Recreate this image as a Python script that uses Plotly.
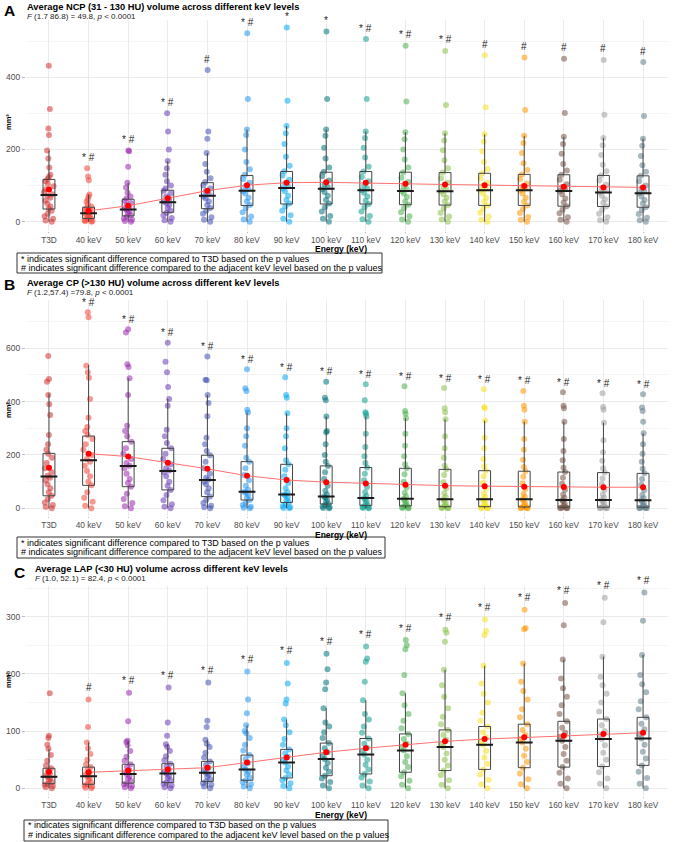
import plotly.graph_objects as go

W, H = 676, 842

categories = ["T3D", "40 keV", "50 keV", "60 keV", "70 keV", "80 keV", "90 keV", "100 keV",
              "110 keV", "120 keV", "130 keV", "140 keV", "150 keV", "160 keV", "170 keV", "180 keV"]
colors = ["#D32F2F", "#F44336", "#9C27B0", "#673AB7", "#3F51B5", "#2196F3", "#03A9F4", "#00737A",
          "#11A090", "#4CAF50", "#8BC34A", "#F5E020", "#FF9800", "#795548", "#9E9E9E", "#607D8B"]

# ---------------- Panel A : NCP ----------------
ncp_points = [
    [0, 3, 8, 15, 22, 30, 36, 42, 50, 58, 66, 72, 76, 82, 90, 98, 105, 112, 118, 124, 130, 150, 175, 197, 240, 258, 312, 432],
    [0, 1, 2, 4, 6, 9, 12, 15, 18, 21, 24, 27, 30, 34, 38, 42, 48, 55, 62, 70, 75, 115, 125, 148],
    [0, 2, 5, 9, 14, 18, 23, 28, 32, 36, 40, 46, 52, 58, 64, 70, 80, 95, 108, 152, 195, 197],
    [0, 4, 10, 18, 25, 30, 38, 46, 52, 56, 62, 70, 78, 86, 92, 100, 112, 130, 148, 168, 200, 250, 300],
    [0, 5, 12, 22, 30, 38, 46, 56, 64, 70, 76, 84, 92, 100, 110, 120, 138, 160, 190, 230, 250, 420],
    [0, 6, 14, 26, 38, 46, 56, 66, 78, 84, 90, 98, 108, 118, 130, 145, 165, 200, 240, 255, 340, 522],
    [0, 8, 18, 30, 42, 50, 60, 72, 84, 92, 98, 106, 116, 128, 140, 155, 180, 215, 245, 265, 335, 538],
    [0, 8, 16, 28, 40, 50, 60, 72, 82, 90, 96, 104, 114, 126, 138, 150, 175, 205, 238, 255, 340, 527],
    [0, 7, 16, 28, 40, 49, 58, 70, 80, 87, 92, 100, 112, 124, 139, 152, 178, 205, 232, 250, 340, 506],
    [0, 6, 15, 26, 38, 47, 56, 68, 78, 85, 90, 98, 110, 122, 137, 150, 172, 200, 228, 248, 333, 487],
    [0, 6, 14, 25, 37, 46, 56, 66, 76, 84, 90, 98, 108, 120, 136, 148, 170, 198, 225, 245, 323, 473],
    [0, 5, 14, 25, 36, 45, 55, 66, 78, 87, 92, 100, 108, 120, 134, 146, 165, 195, 222, 242, 317, 461],
    [0, 5, 13, 24, 35, 45, 55, 66, 78, 87, 92, 98, 106, 118, 131, 143, 162, 190, 218, 238, 309, 455],
    [0, 5, 12, 23, 34, 43, 53, 64, 76, 85, 90, 96, 104, 116, 130, 142, 160, 188, 215, 235, 301, 451],
    [0, 4, 12, 22, 33, 42, 52, 62, 72, 81, 87, 94, 102, 114, 128, 140, 158, 185, 212, 232, 296, 448],
    [0, 4, 11, 21, 32, 40, 50, 60, 70, 79, 85, 92, 100, 112, 127, 138, 156, 182, 210, 230, 293, 442],
]
ncp_q1 = [35, 9, 16, 26, 36, 45, 49, 49, 49, 47, 46, 45, 45, 43, 42, 40]
ncp_median = [74, 23, 34, 54, 72, 86, 93, 91, 87, 85, 84, 87, 87, 85, 81, 79]
ncp_q3 = [117, 40, 62, 87, 108, 128, 139, 137, 139, 137, 136, 134, 131, 130, 128, 127]
ncp_upper = [197, 75, 108, 168, 190, 255, 265, 255, 250, 248, 245, 242, 238, 235, 232, 230]
ncp_mean = [89, 30, 44, 65, 86, 101, 108, 109, 108, 105, 103, 101, 99, 97, 95, 95]
ncp_labels = ["", "* #", "* #", "* #", "#", "* #", "*", "*", "* #", "* #", "* #", "#", "#", "#", "#", "#"]

# ---------------- Panel B : CP ----------------
cp_points = [
    [0, 5, 12, 22, 35, 47, 60, 75, 90, 105, 115, 122, 135, 150, 170, 190, 205, 220, 240, 275, 350, 390, 425, 475, 485, 571],
    [0, 10, 25, 40, 60, 86, 100, 120, 140, 160, 175, 185, 200, 220, 240, 260, 275, 290, 305, 340, 410, 490, 510, 535, 716, 735],
    [0, 8, 20, 35, 55, 81, 95, 110, 130, 150, 160, 170, 185, 205, 225, 250, 270, 290, 310, 425, 488, 530, 540, 659, 671],
    [0, 6, 15, 30, 50, 69, 85, 100, 120, 135, 142, 150, 165, 185, 205, 225, 245, 270, 295, 385, 410, 455, 510, 550, 621],
    [0, 4, 10, 20, 32, 44, 60, 75, 90, 100, 108, 115, 130, 150, 175, 199, 215, 240, 265, 345, 395, 425, 480, 482, 569],
    [0, 2, 6, 12, 20, 31, 40, 50, 58, 62, 70, 85, 105, 125, 150, 175, 190, 235, 270, 300, 359, 370, 440, 450, 521],
    [0, 1, 4, 9, 15, 22, 30, 40, 48, 52, 60, 75, 95, 120, 145, 165, 180, 225, 270, 300, 356, 415, 425, 491],
    [0, 1, 3, 7, 12, 16, 24, 32, 40, 44, 52, 66, 85, 110, 135, 159, 175, 200, 240, 285, 290, 344, 405, 415, 475],
    [0, 1, 2, 5, 8, 11, 18, 26, 34, 39, 46, 60, 80, 105, 130, 153, 170, 195, 230, 280, 344, 355, 360, 405, 465],
    [0, 1, 2, 4, 6, 9, 15, 22, 30, 36, 44, 58, 78, 100, 128, 150, 165, 195, 235, 280, 338, 355, 365, 458],
    [0, 0, 1, 3, 5, 6, 12, 20, 28, 34, 42, 56, 75, 98, 125, 146, 160, 190, 225, 270, 334, 360, 375, 451],
    [0, 0, 1, 3, 5, 6, 12, 20, 28, 34, 42, 55, 74, 96, 120, 141, 158, 185, 225, 265, 329, 375, 380, 446],
    [0, 0, 1, 2, 4, 5, 11, 19, 28, 34, 42, 54, 72, 94, 118, 139, 155, 182, 220, 260, 325, 370, 385, 440],
    [0, 0, 1, 2, 3, 4, 10, 18, 26, 31, 40, 52, 70, 92, 115, 136, 152, 180, 215, 260, 325, 375, 385, 435],
    [0, 0, 1, 2, 3, 4, 10, 18, 26, 31, 40, 52, 70, 90, 112, 134, 150, 178, 210, 255, 321, 370, 380, 431],
    [0, 0, 1, 2, 3, 4, 10, 17, 25, 30, 38, 50, 68, 88, 110, 131, 148, 175, 205, 240, 281, 325, 365, 378, 428],
]
cp_q1 = [47, 86, 81, 69, 44, 31, 22, 16, 11, 9, 6, 6, 5, 4, 4, 4]
cp_median = [119, 180, 159, 140, 106, 62, 52, 44, 39, 36, 34, 34, 34, 31, 31, 30]
cp_q3 = [206, 271, 250, 225, 199, 175, 165, 159, 153, 150, 146, 141, 139, 136, 134, 131]
cp_upper = [431, 537, 488, 410, 425, 359, 356, 344, 344, 338, 334, 329, 325, 325, 321, 281]
cp_mean = [152, 205, 194, 171, 148, 122, 106, 98, 93, 88, 85, 83, 81, 80, 79, 79]
cp_labels = ["", "* #", "* #", "* #", "* #", "* #", "* #", "* #", "* #", "* #", "* #", "* #", "* #", "* #", "* #", "* #"]

# ---------------- Panel C : LAP ----------------
lap_points = [
    [0, 2, 4, 6, 8, 11, 14, 17, 20, 23, 26, 30, 35, 40, 48, 58, 69, 76, 88, 92, 166],
    [0, 1, 3, 5, 7, 10, 14, 18, 21, 24, 28, 32, 37, 42, 50, 60, 70, 80, 107, 155],
    [0, 2, 4, 7, 9, 13, 17, 21, 25, 28, 32, 37, 42, 48, 55, 65, 75, 81, 83, 117, 167],
    [0, 2, 5, 8, 10, 14, 18, 22, 26, 29, 33, 38, 43, 49, 56, 65, 72, 77, 92, 115, 176],
    [0, 3, 6, 9, 12, 16, 20, 24, 27, 31, 36, 41, 47, 54, 62, 72, 78, 85, 107, 118, 185],
    [0, 3, 7, 11, 14, 19, 24, 29, 33, 38, 44, 51, 58, 66, 76, 88, 96, 100, 110, 131, 155, 204],
    [0, 4, 9, 14, 18, 24, 31, 38, 45, 50, 55, 61, 68, 76, 86, 98, 110, 120, 148, 155, 183, 219],
    [0, 5, 11, 17, 22, 29, 36, 44, 51, 57, 63, 70, 79, 88, 98, 108, 115, 140, 173, 185, 208, 235],
    [0, 5, 12, 19, 25, 33, 41, 50, 59, 65, 71, 78, 87, 97, 108, 120, 130, 154, 186, 221, 227, 248],
    [0, 6, 13, 21, 28, 37, 46, 56, 66, 72, 78, 86, 95, 105, 118, 130, 145, 166, 198, 243, 250, 259],
    [0, 6, 14, 23, 31, 40, 50, 61, 72, 78, 85, 93, 102, 112, 125, 140, 160, 180, 207, 256, 272, 277],
    [0, 7, 15, 24, 33, 43, 54, 65, 76, 82, 89, 98, 108, 118, 132, 150, 165, 183, 214, 268, 275, 295],
    [0, 7, 16, 26, 36, 46, 57, 69, 80, 86, 93, 102, 112, 124, 138, 155, 170, 186, 218, 278, 280, 312],
    [0, 8, 17, 27, 37, 48, 60, 72, 83, 90, 97, 106, 117, 130, 145, 160, 175, 192, 225, 285, 324],
    [0, 8, 17, 28, 38, 50, 62, 75, 86, 93, 100, 110, 121, 134, 150, 165, 180, 195, 230, 290, 333],
    [0, 8, 18, 29, 40, 52, 64, 76, 87, 95, 103, 113, 124, 138, 152, 168, 182, 198, 233, 293, 342],
]
lap_q1 = [8, 7, 9, 10, 12, 14, 18, 22, 25, 28, 31, 33, 36, 37, 38, 40]
lap_median = [20, 21, 25, 26, 27, 33, 45, 51, 59, 66, 72, 76, 80, 83, 86, 87]
lap_q3 = [35, 37, 42, 43, 47, 58, 68, 79, 87, 95, 102, 108, 112, 117, 121, 124]
lap_upper = [69, 80, 83, 77, 85, 110, 120, 140, 154, 166, 207, 214, 218, 225, 230, 233]
lap_mean = [29, 28, 31, 33, 36, 45, 54, 63, 70, 76, 82, 86, 89, 92, 95, 97]
lap_labels = ["", "#", "* #", "* #", "* #", "* #", "* #", "* #", "* #", "* #", "* #", "* #", "* #", "* #", "* #", "* #"]

titles = ["Average NCP (31 - 130 HU) volume across different keV levels",
          "Average CP (>130 HU) volume across different keV levels",
          "Average LAP (<30 HU) volume across different keV levels"]
subtitles = ["<i>F</i> (1.7 86.8) = 49.8, <i>p</i> &lt; 0.0001",
             "<i>F</i> (1.2,57.4) =79.8, <i>p</i> &lt; 0.0001",
             "<i>F</i> (1.0, 52.1) = 82.4, <i>p</i> &lt; 0.0001"]
letters = ["A", "B", "C"]
foot_lines = ["* indicates significant difference compared to T3D based on the p values",
              "# indicates significant difference compared to the adjacent keV level based on the p values"]

FONT = "Liberation Sans, Arial, sans-serif"

def fx(p):
    return p / W

def fy(p):
    return 1 - p / H

panels = [
    dict(points=ncp_points, q1=ncp_q1, med=ncp_median, q3=ncp_q3, up=ncp_upper, mean=ncp_mean,
         labels=ncp_labels, yr=[-25, 560], dom=(19.5, 230.7), dtick=200, minor=100, lshift=11,
         letter_xy=(9, 10), title_xy=(25, 7.5), sub_xy=(25, 16.8), ylab_y=122, xlab_y=249,
         foot_box=(17, 253, 382, 273), foot_y=(258.5, 268)),
    dict(points=cp_points, q1=cp_q1, med=cp_median, q3=cp_q3, up=cp_upper, mean=cp_mean,
         labels=cp_labels, yr=[-30, 780], dom=(300.3, 516.3), dtick=200, minor=100, lshift=10,
         letter_xy=(9, 284), title_xy=(25, 283.5), sub_xy=(25, 293), ylab_y=410, xlab_y=535,
         foot_box=(17, 537, 385, 558), foot_y=(542.5, 552)),
    dict(points=lap_points, q1=lap_q1, med=lap_median, q3=lap_q3, up=lap_upper, mean=lap_mean,
         labels=lap_labels, yr=[-14, 353], dom=(586.3, 796.3), dtick=100, minor=50, lshift=12,
         letter_xy=(19, 572), title_xy=(33, 569.3), sub_xy=(33, 578), ylab_y=680, xlab_y=815,
         foot_box=(24, 820, 388, 841), foot_y=(825, 835)),
]

fig = go.Figure()
annotations = []
shapes = []
layout_axes = {}

for i, P in enumerate(panels):
    n = i + 1
    xa = "x" if n == 1 else f"x{n}"
    ya = "y" if n == 1 else f"y{n}"
    # jittered points
    for c, cat in enumerate(categories):
        vals = P["points"][c]
        fig.add_trace(go.Box(
            x=[cat] * len(vals), y=vals, xaxis=xa, yaxis=ya,
            boxpoints="all", jitter=0.9, pointpos=0, width=0.3,
            fillcolor="rgba(0,0,0,0)", line=dict(width=0, color="rgba(0,0,0,0)"),
            marker=dict(size=6, color=colors[c], opacity=0.55, line=dict(width=0)),
            showlegend=False, hoverinfo="y"))
    # boxes from statistics
    fig.add_trace(go.Box(
        x=categories, q1=P["q1"], median=P["med"], q3=P["q3"],
        lowerfence=[min(v) for v in P["points"]], upperfence=P["up"],
        xaxis=xa, yaxis=ya, boxpoints=False, width=0.3, whiskerwidth=0,
        fillcolor="rgba(0,0,0,0)", line=dict(width=1, color="#444444"),
        showlegend=False))
    # thicker median bars
    fig.add_trace(go.Scatter(
        x=categories, y=P["med"], xaxis=xa, yaxis=ya, mode="markers",
        marker=dict(symbol="line-ew", size=12, line=dict(width=2, color="#1a1a1a")),
        showlegend=False, hoverinfo="skip"))
    # mean line (keV levels only)
    fig.add_trace(go.Scatter(
        x=categories[1:], y=P["mean"][1:], xaxis=xa, yaxis=ya, mode="lines",
        line=dict(color="#FF7070", width=1), showlegend=False, hoverinfo="skip"))
    # mean points
    fig.add_trace(go.Scatter(
        x=categories, y=P["mean"], xaxis=xa, yaxis=ya, mode="markers",
        marker=dict(color="#FF0000", size=6), showlegend=False))

    # significance labels
    for c, cat in enumerate(categories):
        if P["labels"][c]:
            annotations.append(dict(
                x=cat, y=max(P["points"][c]), xref=xa, yref=ya, text=P["labels"][c],
                showarrow=False, yshift=P["lshift"], font=dict(size=10, color="#222222", family=FONT)))

    layout_axes["xaxis" if n == 1 else f"xaxis{n}"] = dict(
        domain=[fx(26), fx(668)], anchor=ya, type="category",
        categoryorder="array", categoryarray=categories, range=[-0.58, 15.63],
        showgrid=True, gridcolor="#EBEBEB", gridwidth=0.8, zeroline=False, showline=False,
        ticks="outside", ticklen=1, tickcolor="#BBBBBB",
        tickfont=dict(size=8.3, color="#4D4D4D", family=FONT), automargin=False)
    layout_axes["yaxis" if n == 1 else f"yaxis{n}"] = dict(
        domain=[fy(P["dom"][1]), fy(P["dom"][0])], anchor=xa, range=P["yr"],
        tick0=0, dtick=P["dtick"], showgrid=True, gridcolor="#EBEBEB", gridwidth=0.8,
        minor=dict(dtick=P["minor"], showgrid=True, gridcolor="#F5F5F5", gridwidth=0.6),
        zeroline=False, showline=False, ticks="outside", ticklen=3, tickcolor="#BBBBBB",
        tickfont=dict(size=8.5, color="#4D4D4D", family=FONT), automargin=False)

    # panel letter, title, subtitle
    annotations.append(dict(x=fx(P["letter_xy"][0]), y=fy(P["letter_xy"][1]), xref="paper", yref="paper",
                            text=f"<b>{letters[i]}</b>", showarrow=False, xanchor="center", yanchor="middle",
                            font=dict(size=15.5, color="#000000", family=FONT)))
    annotations.append(dict(x=fx(P["title_xy"][0]), y=fy(P["title_xy"][1]), xref="paper", yref="paper",
                            text=f"<b>{titles[i]}</b>", showarrow=False, xanchor="left", yanchor="middle",
                            font=dict(size=9.3, color="#000000", family=FONT)))
    annotations.append(dict(x=fx(P["sub_xy"][0]), y=fy(P["sub_xy"][1]), xref="paper", yref="paper",
                            text=subtitles[i], showarrow=False, xanchor="left", yanchor="middle",
                            font=dict(size=8.0, color="#222222", family=FONT)))
    # axis titles
    annotations.append(dict(x=fx(8), y=fy(P["ylab_y"]), xref="paper", yref="paper",
                            text="<b>mm³</b>", showarrow=False, textangle=-90, xanchor="center", yanchor="middle",
                            font=dict(size=7.5, color="#000000", family=FONT)))
    annotations.append(dict(x=fx(341), y=fy(P["xlab_y"]), xref="paper", yref="paper",
                            text="<b>Energy (keV)</b>", showarrow=False, xanchor="center", yanchor="middle",
                            font=dict(size=8.5, color="#000000", family=FONT)))
    # footnote box
    bx0, by0, bx1, by1 = P["foot_box"]
    shapes.append(dict(type="rect", xref="paper", yref="paper", x0=fx(bx0), x1=fx(bx1), y0=fy(by1), y1=fy(by0),
                       line=dict(color="#333333", width=1), fillcolor="rgba(0,0,0,0)"))
    for k, line in enumerate(foot_lines):
        annotations.append(dict(x=fx(bx0 + 2), y=fy(P["foot_y"][k]), xref="paper", yref="paper",
                                text=line, showarrow=False, xanchor="left", yanchor="middle", align="left",
                                font=dict(size=9, color="#000000", family=FONT)))

fig.update_layout(
    width=W, height=H, margin=dict(l=0, r=0, t=0, b=0),
    paper_bgcolor="#FFFFFF", plot_bgcolor="#FFFFFF",
    boxmode="overlay", showlegend=False, annotations=annotations, shapes=shapes,
    font=dict(family=FONT), **layout_axes)

fig.write_html("out.html", config={"displayModeBar": False},
               post_script="document.body.style.margin='0';document.body.style.overflow='hidden';")
